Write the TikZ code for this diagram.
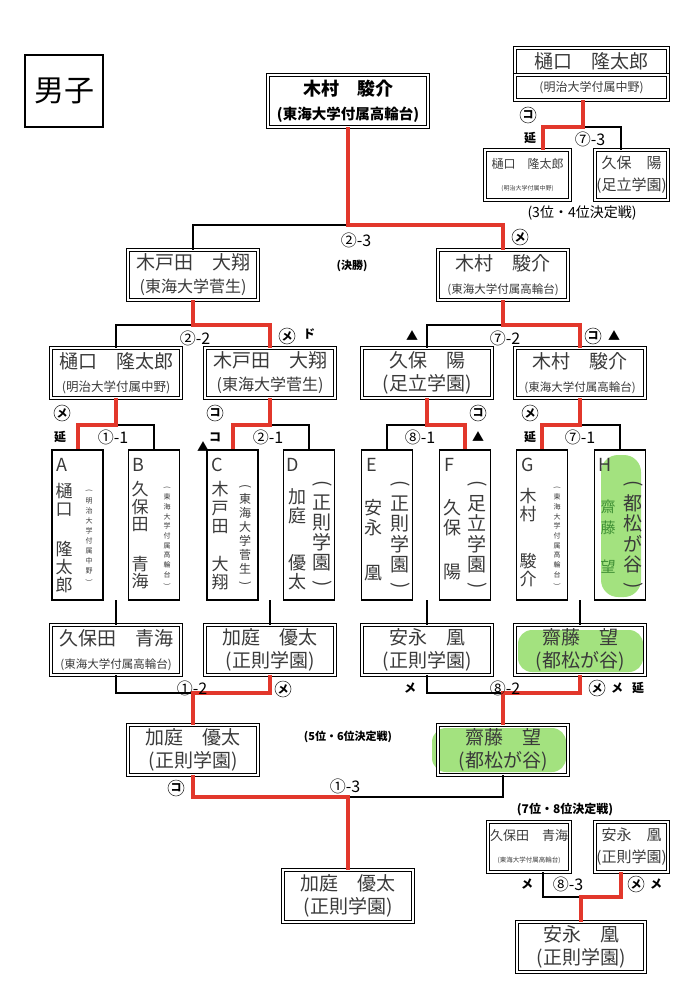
\documentclass[tikz,border=0pt]{standalone}
\usepackage{fontspec}
\setmainfont{Noto Sans CJK JP}
\usetikzlibrary{positioning}
\definecolor{winred}{HTML}{E2372B}
\definecolor{hlgreen}{HTML}{A3E27F}
\definecolor{inkgray}{HTML}{3A3A3A}
\definecolor{namegreen}{HTML}{3F8F35}
% vertical parentheses
\newcommand{\vopen}{\rotatebox[origin=c]{-90}{(}}
\newcommand{\vclose}{\rotatebox[origin=c]{-90}{)}}

\begin{document}
\begin{tikzpicture}[x=1pt, y=-1pt,
    every node/.style={text=inkgray},
    pbox/.style={draw=black, double, double distance=1.4pt, line width=0.9pt,
                 minimum width=130pt, minimum height=50pt, inner sep=0pt,
                 align=center, font=\fontsize{19}{23}\selectfont},
    vbox/.style={draw=black, line width=1.4pt, minimum width=51pt,
                 minimum height=150pt, inner sep=0pt},
    letter/.style={inner sep=0pt, font=\fontsize{18}{18}\selectfont},
    tate/.style={anchor=north, align=center, inner sep=0pt},
    win/.style={draw=winred, line width=4pt},
    lose/.style={draw=black, line width=1.2pt},
    score/.style={inner sep=0pt, text=black, font=\fontsize{16}{16}\selectfont},
    hit/.style={inner sep=0pt, text=black, font=\bfseries\fontsize{12}{12}\selectfont},
    waza/.style={circle, draw=inkgray, line width=0.6pt, inner sep=0pt,
                 minimum size=16pt, text=black, font=\bfseries\fontsize{11}{11}\selectfont},
    caption/.style={inner sep=0pt, text=black, font=\bfseries\fontsize{11}{11}\selectfont},
    hl/.style={fill=hlgreen, rounded corners=14pt},
  ]
  \useasboundingbox (0,0) rectangle (686,1000);

  % highlights
  \fill[hl, rounded corners=17pt] (601,455) rectangle (641,597);
  \fill[hl] (518,630) rectangle (643,672);
  \fill[hl] (432,728) rectangle (566,772);

  \node[draw=black, line width=2.2pt, minimum width=78pt, minimum height=72pt,
        text=black, font=\fontsize{30}{30}\selectfont] (title) at (64,91) {男子};

  % champion and final
  \node[pbox, minimum width=160pt, minimum height=52pt, text=black,
        font=\bfseries\fontsize{18}{24}\selectfont] (champ) at (348,101)
    {木村　駿介\\{\fontsize{14.5}{20}\selectfont (東海大学付属高輪台)}};
  \node[pbox] (s1) at (193,275) {木戸田　大翔\\{\fontsize{16}{23}\selectfont (東海大学菅生)}};
  \node[pbox] (s2) at (503,275) {木村　駿介\\{\fontsize{11.5}{23}\selectfont (東海大学付属高輪台)}};

  % 3rd place
  \node[pbox, minimum width=153pt, minimum height=27pt] (third) at (591.5,61.5) {樋口　隆太郎};
  \node[pbox, minimum width=153pt, minimum height=25pt,
        font=\fontsize{12}{14}\selectfont] (thirdsch) at (591.5,87.5) {(明治大学付属中野)};
  \node[pbox, minimum width=85pt, font=\fontsize{12}{22}\selectfont] (tp1) at (527.5,175)
    {樋口　隆太郎\\{\fontsize{6}{22}\selectfont (明治大学付属中野)}};
  \node[pbox, minimum width=73pt, font=\fontsize{15}{22}\selectfont] (tp2) at (631.5,175)
    {久保　陽\\(足立学園)};

  % quarter finals
  \node[pbox] (q1) at (116,373) {樋口　隆太郎\\{\fontsize{12.5}{23}\selectfont (明治大学付属中野)}};
  \node[pbox] (q2) at (270,373) {木戸田　大翔\\{\fontsize{16}{23}\selectfont (東海大学菅生)}};
  \node[pbox] (q3) at (427,373) {久保　陽\\(足立学園)};
  \node[pbox] (q4) at (580,373) {木村　駿介\\{\fontsize{11.5}{23}\selectfont (東海大学付属高輪台)}};

  % first round
  \node[vbox] (A) at (77.5,525) {};
  \node[vbox] (B) at (154,525) {};
  \node[vbox] (C) at (232.5,525) {};
  \node[vbox] (D) at (309,525) {};
  \node[vbox] (E) at (387,525) {};
  \node[vbox] (F) at (465,525) {};
  \node[vbox] (G) at (542,525) {};
  \node[vbox] (H) at (620,525) {};

  \node[letter] (Aletter) at (62,465) {A};
  \node[letter] (Bletter) at (138,465) {B};
  \node[letter] (Cletter) at (217,465) {C};
  \node[letter] (Dletter) at (293,465) {D};
  \node[letter] (Eletter) at (372,465) {E};
  \node[letter] (Fletter) at (449,465) {F};
  \node[letter] (Gletter) at (528,465) {G};
  \node[letter] (Hletter) at (605,465) {H};

  \node[tate, font=\fontsize{17}{18}\selectfont] (Aname) at (64,483.5) {樋\\口\\[22pt]隆\\太\\郎};
  \node[tate, font=\fontsize{7}{10}\selectfont] (Aschool) at (89,489.5) {\vopen\\明\\治\\大\\学\\付\\属\\中\\野\\\vclose};
  \node[tate, font=\fontsize{17}{17.5}\selectfont] (Bname) at (140,481.5) {久\\保\\田\\[22pt]青\\海};
  \node[tate, font=\fontsize{7}{9.7}\selectfont] (Bschool) at (167,486.5) {\vopen\\東\\海\\大\\学\\付\\属\\高\\輪\\台\\\vclose};
  \node[tate, font=\fontsize{17}{18.5}\selectfont] (Cname) at (220,481.5) {木\\戸\\田\\[19pt]大\\翔};
  \node[tate, font=\fontsize{12}{13.9}\selectfont] (Cschool) at (245,484) {\vopen\\東\\海\\大\\学\\菅\\生\\\vclose};
  \node[tate, font=\fontsize{18}{19}\selectfont] (Dname) at (297,488) {加\\庭\\[28pt]優\\太};
  \node[tate, font=\fontsize{19}{20}\selectfont] (Dschool) at (322,480.5) {\vopen\\正\\則\\学\\園\\\vclose};
  \node[tate, font=\fontsize{18}{20}\selectfont] (Ename) at (373,499) {安\\永\\[25pt]凰};
  \node[tate, font=\fontsize{19}{20.4}\selectfont] (Eschool) at (400,480.5) {\vopen\\正\\則\\学\\園\\\vclose};
  \node[tate, font=\fontsize{18}{20}\selectfont] (Fname) at (452,499) {久\\保\\[24pt]陽};
  \node[tate, font=\fontsize{19}{20.4}\selectfont] (Fschool) at (477,480.5) {\vopen\\足\\立\\学\\園\\\vclose};
  \node[tate, font=\fontsize{17}{18}\selectfont] (Gname) at (528,488.5) {木\\村\\[29pt]駿\\介};
  \node[tate, font=\fontsize{7}{9.7}\selectfont] (Gschool) at (557,486.5) {\vopen\\東\\海\\大\\学\\付\\属\\高\\輪\\台\\\vclose};
  \node[tate, text=namegreen, font=\fontsize{15}{21}\selectfont] (Hname) at (608,499.5) {齋\\藤\\[18pt]望};
  \node[tate, font=\fontsize{19}{20.4}\selectfont] (Hschool) at (633,480.5) {\vopen\\都\\松\\が\\谷\\\vclose};

  % 5th - 8th
  \node[pbox] (r1) at (116,650) {久保田　青海\\{\fontsize{11.5}{23}\selectfont (東海大学付属高輪台)}};
  \node[pbox] (r2) at (270,650) {加庭　優太\\(正則学園)};
  \node[pbox] (r3) at (427,650) {安永　凰\\(正則学園)};
  \node[pbox] (r4) at (580,650) {齋藤　望\\(都松が谷)};
  \node[pbox] (p1) at (193,750) {加庭　優太\\(正則学園)};
  \node[pbox] (p2) at (503,750) {齋藤　望\\(都松が谷)};
  \node[pbox, minimum height=52pt] (fifth) at (348,896) {加庭　優太\\(正則学園)};
  \node[pbox, minimum width=82pt, font=\fontsize{13}{22}\selectfont] (t1) at (529,847)
    {久保田　青海\\{\fontsize{6.5}{22}\selectfont (東海大学付属高輪台)}};
  \node[pbox, minimum width=73pt, font=\fontsize{15}{22}\selectfont] (t2) at (631.5,847)
    {安永　凰\\(正則学園)};
  \node[pbox, minimum width=128pt] (seventh) at (581,947) {安永　凰\\(正則学園)};

  % brackets
  \coordinate (mf) at (348,225);
  \draw[lose] (mf) -| (s1.north);
  \draw[win] (champ.south) -- (mf) -| (s2.north);

  \coordinate (m9) at (583,127);
  \draw[lose] (m9) -| ([xshift=-10.5pt]tp2.north);
  \draw[win] ([xshift=-8.5pt]thirdsch.south) -- (m9) -| ([xshift=15.5pt]tp1.north);

  \coordinate (ms1) at (193,325);
  \draw[lose] (ms1) -| (q1.north);
  \draw[win] (s1.south) -- (ms1) -| (q2.north);
  \coordinate (ms2) at (503,325);
  \draw[lose] (ms2) -| (q3.north);
  \draw[win] (s2.south) -- (ms2) -| (q4.north);

  \coordinate (m1) at (116,425);
  \draw[lose] (m1) -| (B.north);
  \draw[win] (q1.south) -- (m1) -| (A.north);
  \coordinate (m2) at (270,425);
  \draw[lose] (m2) -| (D.north);
  \draw[win] (q2.south) -- (m2) -| (C.north);
  \coordinate (m3) at (427,425);
  \draw[lose] (m3) -| (E.north);
  \draw[win] (q3.south) -- (m3) -| (F.north);
  \coordinate (m4) at (580,425);
  \draw[lose] (m4) -| (H.north);
  \draw[win] (q4.south) -- (m4) -| (G.north);

  \coordinate (l1) at (116,600);
  \coordinate (l2) at (270,600);
  \coordinate (l3) at (427,600);
  \coordinate (l4) at (580,600);
  \draw[lose] (l1) -- (r1.north);
  \draw[lose] (l2) -- (r2.north);
  \draw[lose] (l3) -- (r3.north);
  \draw[lose] (l4) -- (r4.north);

  \coordinate (m5) at (193,693);
  \draw[lose] (r1.south) |- (m5);
  \draw[win] (r2.south) |- (m5) -- (p1.north);
  \coordinate (m6) at (503,693);
  \draw[lose] (r3.south) |- (m6);
  \draw[win] (r4.south) |- (m6) -- (p2.north);

  \coordinate (m7) at (348,797);
  \draw[lose] (p2.south) |- (m7);
  \draw[win] (p1.south) |- (m7) -- (fifth.north);

  \coordinate (m8) at (581,897);
  \draw[lose] ([xshift=14pt]t1.south) |- (m8);
  \draw[win] ([xshift=-10.5pt]t2.south) |- (m8) -- (seventh.north);

  % scores and marks
  \node[score] (sc23) at (356,240) {②-3};
  \node[caption] (kessho) at (352,266) {(決勝)};
  \node[waza] (wf) at (520,237) {メ};
  \node[waza] (w3a) at (528,115) {コ};
  \node[hit] (e3) at (530,138) {延};
  \node[score] (sc73) at (590,139) {⑦-3};
  \node[inner sep=0pt, text=black, font=\fontsize{14}{14}\selectfont] (third34) at (582,213) {(3位・4位決定戦)};

  \node[score] (sc22) at (195,338) {②-2};
  \node[waza] (ws1) at (287,336) {メ};
  \node[hit] (ds1) at (309,334) {ド};
  \node[hit] (tr1) at (412,336) {▲};
  \node[score] (sc72) at (505,338) {⑦-2};
  \node[waza] (ws2) at (593,336) {コ};
  \node[hit] (tr2) at (614,336) {▲};

  \node[waza] (wa1) at (62,413) {メ};
  \node[hit] (ea1) at (60,437) {延};
  \node[score] (sc11) at (113,437) {①-1};
  \node[waza] (wa2) at (215,413) {コ};
  \node[hit] (ka2) at (215,437) {コ};
  \node[hit] (tr3) at (203,447) {▲};
  \node[score] (sc21) at (268,437) {②-1};
  \node[score] (sc81) at (420,437) {⑧-1};
  \node[waza] (wa3) at (478,413) {コ};
  \node[hit] (tr4) at (478,437) {▲};
  \node[waza] (wa4) at (530,413) {メ};
  \node[hit] (ea4) at (530,437) {延};
  \node[score] (sc71) at (580,437) {⑦-1};

  \node[score] (sc12) at (192,688) {①-2};
  \node[waza] (wr1) at (283,689) {メ};
  \node[hit] (mr3) at (410,688) {メ};
  \node[score] (sc82) at (505,688) {⑧-2};
  \node[waza] (wr2) at (597,688) {メ};
  \node[hit] (mr4) at (617,688) {メ};
  \node[hit] (er4) at (638,688) {延};

  \node[caption] (fifth56) at (348,737) {(5位・6位決定戦)};
  \node[score] (sc13) at (345,786) {①-3};
  \node[waza] (wp1) at (176,788) {コ};

  \node[caption, font=\bfseries\fontsize{12}{12}\selectfont] (seventh78) at (565,810) {(7位・8位決定戦)};
  \node[hit] (mt1) at (527,884) {メ};
  \node[score] (sc83) at (568,884) {⑧-3};
  \node[waza] (wt2) at (636,884) {メ};
  \node[hit] (mt2) at (656,884) {メ};
\end{tikzpicture}
\end{document}
